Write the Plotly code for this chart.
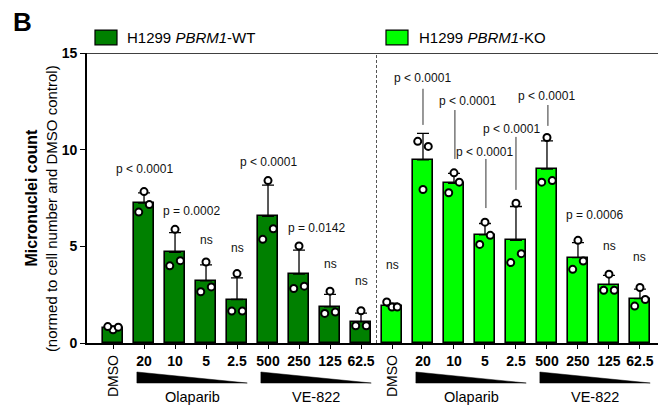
import plotly.graph_objects as go

# ---------------- data ----------------
dose_labels = ["DMSO", "20", "10", "5", "2.5", "500", "250", "125", "62.5"]

wt_mean = [0.78, 7.23, 4.69, 3.21, 2.25, 6.55, 3.56, 1.87, 1.10]
wt_sd = [0.09, 0.54, 1.02, 0.83, 1.12, 1.62, 1.24, 0.65, 0.45]
wt_points = [
    [0.68, 0.85, 0.82], [7.83, 6.77, 7.16], [5.88, 3.99, 4.26],
    [4.19, 2.65, 2.90], [3.59, 1.65, 1.65], [8.40, 5.36, 5.91],
    [5.02, 2.82, 2.94], [2.68, 1.53, 1.60], [1.67, 0.89, 0.89],
]

ko_mean = [1.91, 9.47, 8.26, 5.60, 5.31, 9.00, 4.42, 3.02, 2.30]
ko_sd = [0.15, 1.37, 0.51, 0.58, 1.75, 1.45, 0.77, 0.48, 0.49]
ko_points = [
    [1.86, 2.12, 1.86], [7.94, 10.43, 10.17], [8.80, 7.77, 8.32],
    [6.25, 5.10, 5.57], [7.23, 4.16, 4.62], [10.63, 8.32, 8.40],
    [5.31, 3.81, 4.24], [3.56, 2.73, 2.73], [2.87, 1.91, 2.25],
]

wt_pvals = ["", "p < 0.0001", "p = 0.0002", "ns", "ns", "p < 0.0001", "p = 0.0142", "ns", "ns"]
ko_pvals = ["ns", "p < 0.0001", "p < 0.0001", "p < 0.0001", "p < 0.0001", "p < 0.0001", "p = 0.0006", "ns", "ns"]

drug_names = ["Olaparib", "VE-822"]
legend_names = ["H1299 <i>PBRM1</i>-WT", "H1299 <i>PBRM1</i>-KO"]

# ---------------- style ----------------
FONT = "Arial, Liberation Sans, Helvetica, sans-serif"
WT_COLOR = "#008000"
KO_COLOR = "#00ff00"
n = len(dose_labels)
wt_x = list(range(n))
ko_x = [n + i for i in range(n)]
jitter = [0.0, -0.17, 0.17]

fig = go.Figure()

for xs, means, sds, color, name in [
    (wt_x, wt_mean, wt_sd, WT_COLOR, "WT"),
    (ko_x, ko_mean, ko_sd, KO_COLOR, "KO"),
]:
    fig.add_trace(go.Bar(
        x=xs, y=means, width=0.66, name=name, showlegend=False,
        marker=dict(color=color, line=dict(color="black", width=1.6)),
        error_y=dict(type="data", symmetric=False, array=sds,
                     arrayminus=[0] * len(sds), color="black",
                     thickness=1.3, width=6),
    ))

for xs, pts in [(wt_x, wt_points), (ko_x, ko_points)]:
    px_, py_ = [], []
    for xi, trio in zip(xs, pts):
        for j, v in zip(jitter, trio):
            px_.append(xi + j)
            py_.append(v)
    fig.add_trace(go.Scatter(
        x=px_, y=py_, mode="markers", showlegend=False, cliponaxis=False,
        marker=dict(symbol="circle", size=7, color="white",
                    line=dict(color="black", width=2)),
    ))

# ---------------- p-value labels ----------------
wt_pos = [None, (1.03, 9.0), (2.52, 6.84), (3.0, 5.33), (4.0, 4.91),
          (5.0, 9.38), (6.58, 5.95), (7.0, 4.09), (8.03, 3.21)]
ko_pos = [(9.03, 4.04), (10.0, 13.69), (11.42, 12.52), (12.0, 9.87),
          (12.87, 11.07), (14.0, 12.78), (15.52, 6.62), (16.03, 5.02),
          (16.97, 4.46)]
annotations = []
for labels, pos in [(wt_pvals, wt_pos), (ko_pvals, ko_pos)]:
    for t, p in zip(labels, pos):
        if not t or p is None:
            continue
        annotations.append(dict(x=p[0], y=p[1], xref="x", yref="y", text=t,
                                showarrow=False, xanchor="center", yanchor="middle",
                                font=dict(family=FONT, size=12, color="#111")))

shapes = []
# connector lines for KO p-values
for xl, y0, y1 in [(10.0, 11.28, 13.15), (11.03, 9.52, 12.05), (12.03, 6.98, 9.52),
                   (13.0, 7.92, 10.66), (14.03, 11.23, 12.31)]:
    shapes.append(dict(type="line", xref="x", yref="y", x0=xl, x1=xl, y0=y0, y1=y1,
                       line=dict(color="#333", width=1)))

# separator dashed line
shapes.append(dict(type="line", xref="x", yref="y", x0=8.5, x1=8.5, y0=0, y1=15,
                   line=dict(color="#555", width=1, dash="3px,2px")))
# top frame line
shapes.append(dict(type="line", xref="paper", yref="y", x0=0, x1=1, y0=15, y1=15,
                   line=dict(color="black", width=1.6)))

# dose wedges + drug labels
for base in (0, n):
    for k, (start, end) in enumerate([(1, 4), (5, 8)]):
        x0 = base + start - 0.23
        x1 = base + end + 0.33
        shapes.append(dict(type="path", xref="x", yref="paper",
                           path=f"M {x0},-0.100 L {x0},-0.138 L {x1},-0.138 Z",
                           fillcolor="black", line=dict(color="black", width=0.5)))
        annotations.append(dict(x=(x0 + x1) / 2, y=0, xref="x", yref="paper",
                                yshift=-54, text=drug_names[k], showarrow=False,
                                xanchor="center", yanchor="middle",
                                font=dict(family=FONT, size=14.5, color="black")))
    annotations.append(dict(x=base, y=0, xref="x", yref="paper", yshift=-33,
                            text="DMSO", textangle=-90, showarrow=False,
                            xanchor="center", yanchor="middle",
                            font=dict(family=FONT, size=14, color="black")))

# legend (drawn manually)
for (rx0, rx1, tx), color, name in [((0.0138, 0.0518, 0.0656), WT_COLOR, legend_names[0]),
                                     ((0.5164, 0.5544, 0.570), KO_COLOR, legend_names[1])]:
    shapes.append(dict(type="rect", xref="paper", yref="paper", x0=rx0, x1=rx1,
                       y0=1.028, y1=1.079, fillcolor=color,
                       line=dict(color="black", width=1.2)))
    annotations.append(dict(x=tx, y=1.053, xref="paper", yref="paper", text=name,
                            showarrow=False, xanchor="left", yanchor="middle",
                            font=dict(family=FONT, size=15, color="black")))

# panel letter
annotations.append(dict(x=-0.112, y=1.107, xref="paper", yref="paper", text="<b>B</b>",
                        showarrow=False, xanchor="center", yanchor="middle",
                        font=dict(family=FONT, size=26, color="black")))
# y-axis titles
annotations.append(dict(x=-0.096, y=0.503, xref="paper", yref="paper",
                        text="<b>Micronuclei count</b>", textangle=-90, showarrow=False,
                        xanchor="center", yanchor="middle",
                        font=dict(family=FONT, size=16, color="black")))
annotations.append(dict(x=-0.062, y=0.462, xref="paper", yref="paper",
                        text="(normed to cell number and DMSO control)", textangle=-90,
                        showarrow=False, xanchor="center", yanchor="middle",
                        font=dict(family=FONT, size=15, color="black")))

tick_text = [("" if lbl == "DMSO" else lbl) for lbl in dose_labels] * 2

# the page body adds an 8px margin, so the figure is 8px smaller than the window
fig.update_layout(
    width=658, height=398,
    margin=dict(l=79, r=0, t=45, b=63),
    paper_bgcolor="white", plot_bgcolor="white",
    showlegend=False, bargap=0,
    annotations=annotations, shapes=shapes,
    xaxis=dict(range=[-0.84, 17.84], tickmode="array",
               tickvals=wt_x + ko_x, ticktext=tick_text,
               ticks="outside", ticklen=4, tickwidth=1.3, tickcolor="black",
               showline=True, linecolor="black", linewidth=1.6,
               showgrid=False, zeroline=False,
               tickfont=dict(family=FONT, size=14, color="black", weight="bold")),
    yaxis=dict(range=[0, 15], tickvals=[0, 5, 10, 15],
               ticks="outside", ticklen=5, tickwidth=1.3, tickcolor="black",
               showline=True, linecolor="black", linewidth=1.6,
               showgrid=False, zeroline=False,
               tickfont=dict(family=FONT, size=14, color="black", weight="bold")),
)

fig.write_html("out.html")
